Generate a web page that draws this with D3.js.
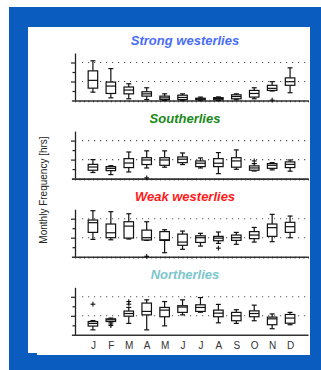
<!DOCTYPE html>
<html>
<head>
<meta charset="utf-8">
<script src="https://cdn.jsdelivr.net/npm/d3@7"></script>
<style>
  html, body { margin: 0; padding: 0; background: #fff; }
  svg { display: block; }
  text { font-family: "Liberation Sans", Arial, sans-serif; }
</style>
</head>
<body>
<svg id="chart" width="321" height="370"></svg>
<script>
// Month initials along the shared x axis
const months = ["J", "F", "M", "A", "M", "J", "J", "A", "S", "O", "N", "D"];

// Monthly box statistics: [whisker low, Q1, median, Q3, whisker high]
const strongWesterlies = [
  [0.44, 0.65, 1.06, 1.56, 2.09], [0.14, 0.37, 0.76, 0.97, 1.68], [0.09, 0.35, 0.55, 0.71, 0.88],
  [0.05, 0.23, 0.35, 0.46, 0.67], [0.00, 0.05, 0.14, 0.23, 0.35], [0.00, 0.05, 0.16, 0.28, 0.35],
  [0.00, 0.04, 0.09, 0.12, 0.18], [0.00, 0.04, 0.10, 0.15, 0.19], [0.04, 0.09, 0.21, 0.30, 0.35],
  [0.09, 0.18, 0.37, 0.53, 0.67], [0.50, 0.53, 0.64, 0.80, 0.99], [0.41, 0.80, 0.99, 1.19, 1.72]
];
const southerlies = [
  [0.32, 0.44, 0.61, 0.75, 1.00], [0.21, 0.42, 0.54, 0.63, 0.68], [0.35, 0.58, 0.82, 1.05, 1.40],
  [0.56, 0.74, 0.98, 1.10, 1.46], [0.60, 0.70, 0.98, 1.10, 1.46], [0.74, 0.84, 1.02, 1.14, 1.35],
  [0.56, 0.63, 0.81, 0.93, 1.09], [0.26, 0.63, 0.81, 1.05, 1.37], [0.49, 0.60, 0.93, 1.10, 1.51],
  [0.40, 0.44, 0.56, 0.67, 0.79], [0.46, 0.54, 0.70, 0.79, 0.84], [0.39, 0.58, 0.75, 0.88, 0.98]
];
const weakWesterlies = [
  [0.91, 1.28, 1.79, 1.93, 2.42], [0.89, 1.00, 1.26, 1.72, 2.37], [0.93, 0.98, 1.61, 1.84, 2.26],
  [0.86, 0.88, 1.00, 1.40, 1.84], [0.21, 0.86, 0.89, 1.32, 1.42], [0.39, 0.60, 0.77, 1.19, 1.35],
  [0.56, 0.75, 1.00, 1.10, 1.23], [0.70, 0.84, 0.98, 1.07, 1.30], [0.65, 0.86, 1.00, 1.14, 1.28],
  [0.77, 0.95, 1.14, 1.32, 1.54], [0.79, 1.07, 1.53, 1.72, 2.23], [1.00, 1.28, 1.58, 1.81, 2.14]
];
const northerlies = [
  [0.26, 0.46, 0.60, 0.70, 0.75], [0.67, 0.70, 0.79, 0.84, 0.88], [0.60, 0.98, 1.12, 1.25, 1.44],
  [0.26, 1.05, 1.23, 1.67, 1.84], [0.47, 0.95, 1.30, 1.44, 1.75], [1.05, 1.18, 1.46, 1.53, 1.84],
  [1.19, 1.23, 1.44, 1.58, 1.96], [0.63, 0.95, 1.14, 1.30, 1.60], [0.60, 0.74, 1.00, 1.18, 1.32],
  [0.74, 0.95, 1.12, 1.26, 1.56], [0.32, 0.53, 0.84, 0.93, 1.10], [0.53, 0.61, 0.88, 1.07, 1.18]
];

// Outliers: [month index, value]
const strongOutliers = [[10, 0.02]];
const southerlyOutliers = [[3, 0.04], [9, 0.93]];
const weakOutliers = [[3, 0.02], [7, 0.45]];
const northerlyOutliers = [[0, 1.61], [1, 0.49], [1, 0.57], [2, 1.61], [2, 1.75]];

const panelTitles = ["Strong westerlies", "Southerlies", "Weak westerlies", "Northerlies"];
const panelColors = ["#4a6df5", "#1a8a1a", "#ff1a1a", "#7cc6cb"];

const panels = [
  { title: panelTitles[0], color: panelColors[0], stats: strongWesterlies, outliers: strongOutliers },
  { title: panelTitles[1], color: panelColors[1], stats: southerlies, outliers: southerlyOutliers },
  { title: panelTitles[2], color: panelColors[2], stats: weakWesterlies, outliers: weakOutliers },
  { title: panelTitles[3], color: panelColors[3], stats: northerlies, outliers: northerlyOutliers }
];

const svg = d3.select("#chart");

// Blue frame with white card
svg.append("rect").attr("x", 9).attr("y", 7).attr("width", 312).attr("height", 363).attr("fill", "#0b5cbf");
svg.append("rect").attr("x", 28).attr("y", 27).attr("width", 282).attr("height", 326).attr("fill", "#fff");
svg.append("rect").attr("x", 37).attr("y", 27).attr("width", 273).attr("height", 328).attr("fill", "#fff");

const x = d3.scaleLinear().domain([0, 13]).range([75, 308]);
const boxW = 9.5, capW = 5;

const firstBase = 100.5, panelStep = 78.1, plotH = 47.5;

panels.forEach((p, pi) => {
  const base = firstBase + pi * panelStep;
  const y = d3.scaleLinear().domain([0, 2.5]).range([base, base - plotH]);
  const g = svg.append("g");

  // Title
  g.append("text")
    .attr("x", 185).attr("y", y(2.5) - 8)
    .attr("text-anchor", "middle")
    .attr("font-size", 13).attr("font-weight", "bold").attr("font-style", "italic")
    .attr("fill", p.color)
    .text(p.title);

  // Dotted reference lines
  g.selectAll("line.grid").data([1, 2]).enter().append("line")
    .attr("class", "grid")
    .attr("x1", 82).attr("x2", 308)
    .attr("y1", d => y(d)).attr("y2", d => y(d))
    .attr("stroke", "#555").attr("stroke-width", 1.1)
    .attr("stroke-dasharray", "1.2,4.8");

  // Y axis: major ticks at 1 and 2, minor halfway
  const yAxisMajor = d3.axisLeft(y).tickValues([1, 2]).tickSize(4).tickFormat("").tickSizeOuter(0);
  const yAxisMinor = d3.axisLeft(y).tickValues([0.5, 1.5]).tickSize(2.5).tickFormat("").tickSizeOuter(0);
  const ya = g.append("g").attr("transform", `translate(${x(0)},0)`).call(yAxisMajor);
  g.append("g").attr("transform", `translate(${x(0)},0)`).call(yAxisMinor).select(".domain").remove();
  g.selectAll(".tick line").attr("stroke", "#222").attr("stroke-width", 1.2);
  ya.select(".domain").attr("stroke", "#222").attr("stroke-width", 1.3);

  // X axis baseline
  const xb = d3.scaleLinear().domain([-0.2, 13]).range([x(-0.2), x(13)]);
  if (pi < 3) {
    const quarterTicks = d3.range(0, 13.01, 0.25);
    const xa = g.append("g").attr("transform", `translate(0,${base})`)
      .call(d3.axisBottom(xb).tickValues(quarterTicks).tickSize(1.8).tickFormat("").tickSizeOuter(0));
    xa.selectAll(".tick line").attr("stroke", "#333").attr("stroke-width", 1);
    xa.select(".domain").attr("stroke", "#333").attr("stroke-width", 1.6);
  } else {
    const xa = g.append("g").attr("transform", `translate(0,${base})`)
      .call(d3.axisBottom(xb).tickValues(months.map((m, i) => i + 1)).tickSize(0)
        .tickFormat((d, i) => months[i]).tickPadding(7).tickSizeOuter(0));
    xa.select(".domain").attr("stroke", "#333").attr("stroke-width", 1.4);
    xa.selectAll(".tick text")
      .attr("font-family", "Liberation Sans, Arial, sans-serif")
      .attr("font-size", 10).attr("fill", "#333");
  }

  // Box plots
  const boxes = g.selectAll("g.box").data(p.stats).enter().append("g").attr("class", "box");
  const stroke = "#111", sw = 1.2;
  boxes.append("line")
    .attr("x1", (d, i) => x(i + 1)).attr("x2", (d, i) => x(i + 1))
    .attr("y1", d => y(d[0])).attr("y2", d => y(d[1]))
    .attr("stroke", stroke).attr("stroke-width", sw);
  boxes.append("line")
    .attr("x1", (d, i) => x(i + 1)).attr("x2", (d, i) => x(i + 1))
    .attr("y1", d => y(d[3])).attr("y2", d => y(d[4]))
    .attr("stroke", stroke).attr("stroke-width", sw);
  boxes.append("line")
    .attr("x1", (d, i) => x(i + 1) - capW / 2).attr("x2", (d, i) => x(i + 1) + capW / 2)
    .attr("y1", d => y(d[0])).attr("y2", d => y(d[0]))
    .attr("stroke", stroke).attr("stroke-width", sw);
  boxes.append("line")
    .attr("x1", (d, i) => x(i + 1) - capW / 2).attr("x2", (d, i) => x(i + 1) + capW / 2)
    .attr("y1", d => y(d[4])).attr("y2", d => y(d[4]))
    .attr("stroke", stroke).attr("stroke-width", sw);
  boxes.append("rect")
    .attr("x", (d, i) => x(i + 1) - boxW / 2).attr("width", boxW)
    .attr("y", d => y(d[3])).attr("height", d => y(d[1]) - y(d[3]))
    .attr("fill", "#fff").attr("stroke", stroke).attr("stroke-width", sw);
  boxes.append("line")
    .attr("x1", (d, i) => x(i + 1) - boxW / 2).attr("x2", (d, i) => x(i + 1) + boxW / 2)
    .attr("y1", d => y(d[2])).attr("y2", d => y(d[2]))
    .attr("stroke", stroke).attr("stroke-width", sw);

  // Outlier crosses
  const cross = 2.4;
  const o = g.selectAll("g.out").data(p.outliers).enter().append("g").attr("class", "out");
  o.append("line")
    .attr("x1", d => x(d[0] + 1) - cross).attr("x2", d => x(d[0] + 1) + cross)
    .attr("y1", d => y(d[1])).attr("y2", d => y(d[1]))
    .attr("stroke", stroke).attr("stroke-width", 1.1);
  o.append("line")
    .attr("x1", d => x(d[0] + 1)).attr("x2", d => x(d[0] + 1))
    .attr("y1", d => y(d[1]) - cross).attr("y2", d => y(d[1]) + cross)
    .attr("stroke", stroke).attr("stroke-width", 1.1);
});

// Shared y-axis label
svg.append("text")
  .attr("transform", "translate(46.5,190) rotate(-90)")
  .attr("text-anchor", "middle")
  .attr("font-size", 10).attr("fill", "#222")
  .text("Monthly Frequency [hrs]");
</script>
</body>
</html>
